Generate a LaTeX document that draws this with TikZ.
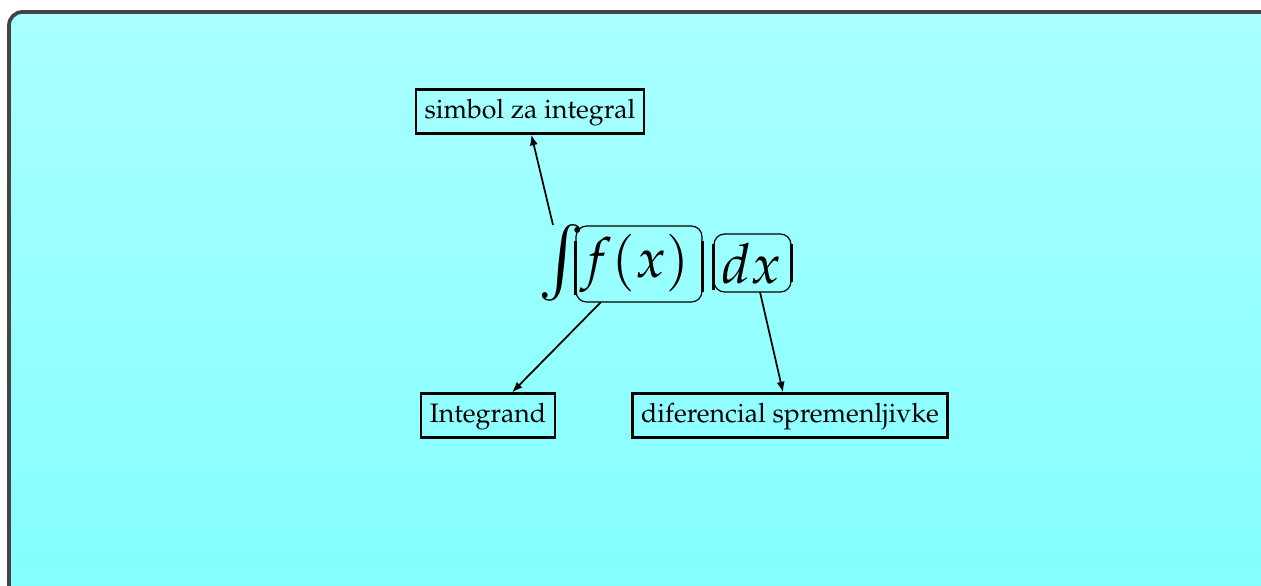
\documentclass[tikz,border=0pt]{standalone}
\usepackage[T1]{fontenc}
\usepackage{mathpazo}
\usetikzlibrary{arrows.meta}
\definecolor{frametop}{RGB}{170,255,255}
\definecolor{framebot}{RGB}{128,255,255}
\definecolor{framegray}{RGB}{68,68,68}
\tikzset{
  lbl/.style={draw=black, line width=0.8pt, inner xsep=3.2pt, minimum height=16.5pt, font=\fontsize{10}{12}\selectfont, text height=7pt, text depth=2pt},
  mathbox/.style={draw=black, line width=0.45pt, rounded corners=4pt, inner sep=0pt},
  sidebar/.style={line width=1.1pt},
  conn/.style={line width=0.65pt, -{Latex[length=4pt,width=3pt]}},
  bigmath/.style={inner sep=0pt, font=\fontsize{20.74}{25}\selectfont}
}
\begin{document}
\begin{tikzpicture}[x=0.375pt, y=-0.375pt]
\useasboundingbox (0,0) rectangle (1261,585);
\clip (0,0) rectangle (1261,585);
\shade[top color=frametop, bottom color=framebot, draw=framegray, line width=1.4pt, rounded corners=5pt]
  (9,12) rectangle (1320,650);
% labels
\node[lbl, minimum width=85.5pt] (sym) at (530,111.5) {simbol za integral};
\node[lbl, minimum width=50.2pt] (intg) at (488,415.5) {Integrand};
\node[lbl, minimum width=117.7pt] (dif) at (790,415.5) {diferencial spremenljivke};
% math
\node[bigmath, font=\fontsize{24.88}{30}\selectfont] (int) at (562,263) {$\int$};
\node[mathbox, minimum width=47.25pt, minimum height=28.5pt] (fx) at (639,264) {};
\node[bigmath] (fxt) at (635,264) {$f(x)$};
\node[mathbox, minimum width=28.9pt, minimum height=21.75pt] (dx) at (752.5,263) {};
\node[bigmath] (dxt) at (752,264) {$dx$};
\draw[sidebar] ([yshift=-6pt]fx.north west) -- ([yshift=3pt]fx.south west);
\draw[sidebar] ([yshift=-6pt]fx.north east) -- ([yshift=4pt]fx.south east);
\draw[sidebar] ([yshift=-4pt]dx.north west) -- ([yshift=1pt]dx.south west);
\draw[sidebar] ([yshift=-4pt]dx.north east) -- ([yshift=4pt]dx.south east);
% connectors
\coordinate (c1) at (553,225);
\coordinate (c2) at (601,302);
\coordinate (c3) at (760,292);
\draw[conn] (c1) -- ([xshift=0.5pt]sym.south);
\draw[conn] (c2) -- ([xshift=9pt]intg.north);
\draw[conn] (c3) -- ([xshift=-2.6pt]dif.north);
\end{tikzpicture}
\end{document}
